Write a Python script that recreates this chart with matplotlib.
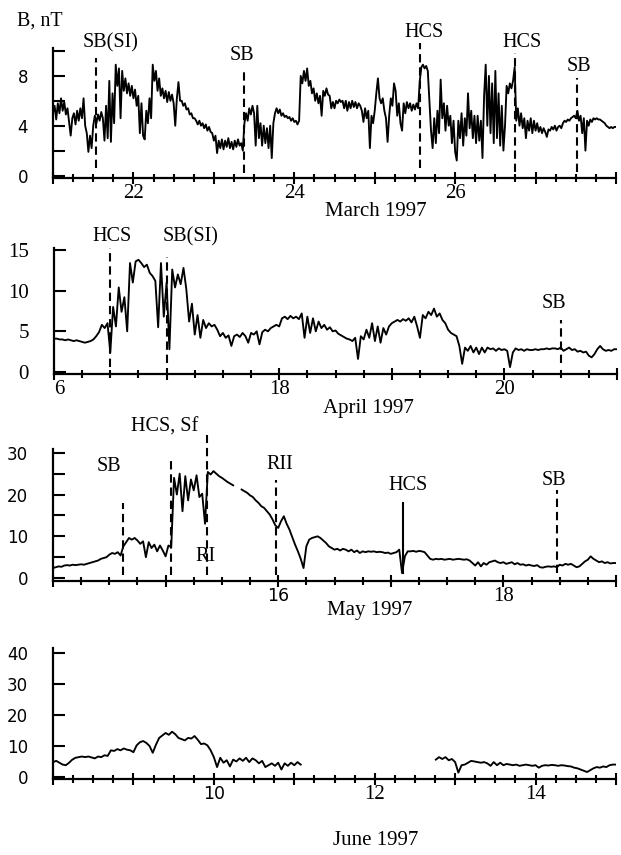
import numpy as np
import matplotlib
matplotlib.use("Agg")
import matplotlib.pyplot as plt
import matplotlib.transforms as mtransforms
from matplotlib.ticker import MultipleLocator, FixedLocator

plt.rcParams['lines.scale_dashes'] = False

SERIF = 'Liberation Serif'
SANS = 'DejaVu Sans'

# ---------------- data (B, nT) ----------------
# March 1997, 21.00 .. 28.00 days, step 0.02 day
mar_t0, mar_t1 = 21.0, 28.0
mar_B = [5.0, 5.6, 4.5, 5.8, 5.0, 6.2, 5.2, 5.9, 4.9, 5.4,
         4.3, 3.2, 4.6, 5.0, 4.1, 5.2, 4.4, 5.4, 4.6, 6.2,
         4.0, 3.4, 1.9, 3.2, 2.2, 4.0, 4.8, 4.2, 4.9, 4.4,
         5.1, 4.6, 2.8, 5.6, 3.0, 7.6, 2.7, 6.6, 4.2, 8.9,
         7.2, 8.6, 4.6, 8.4, 6.8, 7.8, 6.6, 7.4, 6.4, 7.2,
         6.2, 6.9, 5.6, 6.4, 3.4, 5.8, 3.2, 2.9, 5.2, 4.2,
         6.2, 4.6, 8.9, 7.6, 8.4, 6.8, 7.8, 6.4, 7.0, 6.2,
         6.8, 5.9, 6.7, 6.0, 6.5, 5.8, 4.0, 6.2, 7.5, 6.0,
         6.0, 5.6, 5.8, 5.3, 5.4, 4.9, 5.0, 4.6, 4.6, 4.4,
         4.1, 4.4, 4.0, 4.2, 3.8, 4.1, 3.6, 3.9, 3.5, 3.4,
         2.8, 3.2, 1.8, 2.8, 2.2, 2.9, 2.1, 2.8, 2.3, 3.0,
         2.2, 2.7, 2.1, 2.8, 2.3, 2.9, 2.4, 2.6, 2.0, 4.2,
         5.0, 4.4, 5.4, 4.9, 5.6, 5.0, 2.4, 5.6, 3.0, 4.2,
         2.4, 4.0, 2.6, 3.8, 2.2, 4.0, 1.4, 4.2, 5.0, 5.4,
         5.0, 5.3, 4.8, 5.0, 4.7, 4.8, 4.6, 4.7, 4.4, 4.6,
         4.3, 4.4, 4.1, 4.4, 8.0, 7.4, 8.4, 7.6, 8.6, 7.2,
         7.6, 6.6, 7.0, 6.0, 6.6, 5.8, 6.4, 4.8, 6.8, 6.4,
         7.0, 6.5, 6.4, 5.4, 5.9, 5.4, 6.0, 5.8, 6.1, 5.9,
         6.0, 5.4, 6.0, 5.2, 5.9, 5.4, 6.0, 5.5, 5.9, 5.4,
         5.8, 5.6, 5.2, 4.3, 5.4, 4.6, 5.2, 2.2, 4.8, 4.2,
         5.2, 6.6, 7.8, 6.2, 5.8, 6.2, 5.2, 4.6, 2.7, 4.8,
         6.2, 5.6, 7.4, 6.8, 4.8, 5.8, 4.2, 3.6, 5.8, 5.0,
         5.9, 5.4, 5.8, 5.2, 5.7, 5.3, 5.8, 5.4, 7.6, 8.7,
         8.9, 8.6, 8.8, 8.4, 6.0, 3.6, 2.2, 4.6, 2.6, 5.2,
         3.4, 7.7, 4.6, 5.8, 3.6, 5.6, 4.0, 4.8, 2.6, 4.4,
         1.9, 1.2, 4.4, 3.0, 5.0, 2.4, 4.6, 3.2, 6.6, 3.8,
         5.2, 3.0, 4.8, 2.6, 4.8, 2.8, 4.4, 1.4, 6.4, 8.9,
         4.0, 8.0, 3.4, 7.4, 2.6, 8.4, 3.0, 6.6, 2.4, 5.6,
         2.0, 4.0, 7.2, 6.6, 7.4, 7.0, 7.6, 8.7, 4.4, 5.4,
         4.0, 5.0, 3.8, 4.6, 3.0, 4.4, 3.6, 4.6, 3.4, 4.4,
         3.6, 4.2, 3.5, 3.9, 3.4, 3.8, 3.5, 3.1, 3.7, 3.6,
         3.9, 3.7, 4.0, 3.6, 3.9, 4.0, 3.8, 4.2, 4.4, 4.3,
         4.5, 4.4, 4.6, 4.7, 4.8, 4.6, 5.2, 4.4, 4.8, 3.4,
         4.6, 2.0, 4.4, 4.0, 4.5, 4.3, 4.6, 4.5, 4.6, 4.5,
         4.5, 4.4, 4.3, 4.2, 4.0, 3.9, 3.8, 3.9, 3.8, 3.9,
         3.9]

# April 1997, 16.000 .. 21.000 days, step 0.025 day
apr_t0, apr_t1 = 16.0, 21.0
apr_B = [4.1, 4.1, 4.0, 4.0, 3.9, 4.0, 3.9, 3.8, 3.9, 3.8,
         3.7, 3.6, 3.7, 3.8, 4.0, 4.4, 4.9, 5.8, 5.4, 6.0,
         2.4, 8.0, 5.6, 10.4, 7.4, 9.2, 5.0, 13.4, 11.0, 13.6,
         13.8, 13.4, 12.9, 13.2, 12.2, 11.8, 11.2, 5.5, 13.4, 6.8,
         11.0, 2.8, 12.6, 10.4, 12.0, 10.8, 12.8, 10.2, 6.2, 8.4,
         4.6, 7.0, 4.2, 6.4, 5.4, 6.0, 5.6, 5.8, 5.2, 4.4,
         4.8, 4.2, 4.5, 3.2, 4.4, 4.6, 4.3, 4.8, 4.4, 3.6,
         4.8, 4.6, 5.0, 3.4, 4.9, 5.2, 5.0, 5.4, 5.6, 5.8,
         5.6, 6.6, 6.8, 6.5, 6.9, 6.6, 6.8, 6.5, 7.2, 4.2,
         6.8, 4.8, 6.6, 5.0, 6.2, 5.4, 5.8, 5.2, 5.5, 5.0,
         5.1, 4.7, 4.5, 4.3, 4.1, 4.0, 3.8, 4.2, 1.6, 4.4,
         4.0, 5.2, 4.2, 6.0, 3.8, 5.6, 3.6, 5.4, 4.6, 5.6,
         6.0, 6.2, 6.4, 6.2, 6.5, 6.3, 6.6, 6.1, 6.8, 5.6,
         4.2, 7.0, 6.6, 7.4, 7.0, 7.8, 6.8, 7.2, 6.4, 6.0,
         5.2, 4.8, 4.6, 4.4, 3.2, 1.0, 3.0, 2.6, 3.2, 2.4,
         3.0, 2.2, 3.0, 2.4, 3.0, 2.8, 2.9, 2.6, 2.9, 2.7,
         2.8, 2.6, 0.6, 2.4, 2.9, 2.7, 2.8, 2.6, 2.8, 2.7,
         2.7, 2.8, 2.7, 2.8, 2.8, 2.9, 2.8, 2.9, 2.9, 2.8,
         3.0, 2.6, 2.8, 3.0, 2.7, 2.8, 2.5, 2.6, 2.4, 2.5,
         2.0, 1.8, 2.2, 2.8, 3.2, 2.8, 2.6, 2.7, 2.6, 2.8,
         2.8]

# May 1997, 14.000 .. 19.000 days, step 0.025 day (nan = data gap)
nan = np.nan
may_t0, may_t1 = 14.0, 19.0
may_B = [2.4, 2.6, 2.8, 2.7, 3.0, 3.1, 3.0, 3.2, 3.1, 3.2,
         3.3, 3.2, 3.4, 3.6, 3.8, 4.0, 4.2, 4.6, 4.8, 5.0,
         5.6, 6.0, 5.8, 6.2, 5.4, 7.6, 8.6, 9.6, 9.2, 9.6,
         9.0, 8.2, 8.8, 5.0, 8.6, 7.2, 8.0, 6.4, 7.8, 6.6,
         5.2, 7.8, 7.4, 24.0, 20.0, 25.0, 16.0, 24.4, 18.6, 23.6,
         21.0, 24.6, 19.4, 20.2, 13.0, 25.4, 24.8, 25.6, 25.0, 24.4,
         24.0, 23.5, 23.0, 22.6, 22.2, nan, nan, 21.2, 20.8, 20.4,
         19.8, 19.4, 18.6, 18.0, 17.2, 16.8, 16.0, 15.2, 14.0, 12.6,
         12.0, 13.6, 14.8, 13.0, 11.6, 9.8, 8.0, 6.4, 4.6, 2.4,
         7.6, 9.2, 9.6, 9.8, 10.0, 9.6, 9.0, 8.4, 7.6, 7.2,
         6.8, 7.0, 6.6, 7.0, 6.8, 6.4, 6.8, 6.2, 6.6, 6.0,
         6.4, 6.2, 6.4, 6.3, 6.4, 6.2, 6.3, 6.2, 6.0, 6.1,
         5.8, 6.0, 6.2, 6.8, 1.2, 5.2, 6.4, 6.4, 6.5, 6.3,
         6.5, 6.4, 6.2, 5.4, 4.6, 4.4, 4.6, 4.5, 4.6, 4.4,
         4.5, 4.6, 4.4, 4.5, 4.6, 4.5, 4.4, 4.5, 4.2, 3.6,
         3.0, 3.8, 2.8, 3.6, 3.2, 3.8, 4.0, 4.2, 3.8, 3.6,
         3.8, 3.4, 3.6, 3.8, 3.3, 3.6, 3.2, 3.3, 3.0, 3.2,
         3.0, 2.9, 3.1, 2.6, 2.5, 2.7, 2.8, 2.7, 2.8, 2.6,
         3.2, 3.0, 3.4, 3.2, 3.4, 3.0, 2.6, 2.8, 3.4, 4.0,
         4.4, 5.2, 4.6, 4.2, 3.8, 4.0, 3.6, 3.8, 3.5, 3.6,
         3.6]

# June 1997, two segments, step 0.04 day
jun_a_t0, jun_a_t1 = 8.0, 11.08
jun_B_a = [4.8, 5.2, 4.6, 4.0, 3.8, 4.6, 5.6, 6.2, 6.4, 6.6,
           6.4, 6.6, 6.3, 6.0, 6.6, 6.4, 7.0, 6.8, 8.6, 8.4,
           9.0, 8.6, 9.2, 8.8, 8.6, 8.0, 10.2, 11.2, 11.6, 11.0,
           10.0, 7.8, 10.4, 12.6, 13.4, 14.2, 13.6, 14.6, 13.8, 12.6,
           12.2, 11.8, 12.6, 12.4, 13.2, 12.0, 10.6, 10.8, 10.2, 8.6,
           6.4, 3.2, 6.2, 4.6, 5.4, 3.4, 5.6, 5.0, 6.0, 5.2,
           6.2, 4.8, 6.0, 5.4, 4.4, 5.2, 3.2, 3.8, 4.4, 3.6,
           4.6, 2.4, 4.4, 3.6, 4.6, 3.8, 4.8, 4.0]
jun_b_t0, jun_b_t1 = 12.76, 15.0
jun_B_b = [5.6, 6.4, 5.8, 6.4, 5.4, 5.8, 4.8, 1.4, 3.8, 4.0,
           4.6, 5.2, 5.0, 4.8, 4.6, 4.8, 4.4, 3.6, 4.8, 3.8,
           4.6, 3.8, 4.2, 4.0, 3.8, 4.0, 3.6, 3.8, 4.0, 3.8,
           3.6, 3.8, 3.0, 3.6, 3.8, 3.7, 3.9, 3.8, 3.6, 3.8,
           3.7, 3.5, 3.4, 3.0, 2.8, 2.4, 2.0, 1.6, 2.2, 2.8,
           3.2, 3.0, 3.4, 3.2, 3.8, 4.0, 4.0]

# event markers: (day, label)
mar_events = [(21.53, 'SB(SI)'), (23.37, 'SB'), (25.56, 'HCS'), (26.75, 'HCS'), (27.51, 'SB')]
apr_events = [(16.50, 'HCS'), (17.00, 'SB(SI)'), (20.50, 'SB')]
may_events = [(14.62, 'SB'), (15.05, ''), (15.37, 'RI'), (15.98, 'RII'), (17.11, 'HCS'), (18.48, 'SB')]
may_extra_label = 'HCS, Sf'

# ---------------- layout (positions / styles) ----------------
# per event: line ymin, ymax (axes fraction), linestyle, label x (days), label y (axes fraction)
mar_layout = [(0.077, 0.923, '--', 21.72, 1.040),
              (0.038, 0.823, '--', 23.35, 0.946),
              (0.077, 1.038, '--', 25.61, 1.123),
              (0.046, 0.962, '--', 26.83, 1.046),
              (0.046, 0.769, '--', 27.54, 0.854)]
apr_layout = [(0.056, 1.000, '--', 16.52, 1.090),
              (0.087, 0.929, '--', 17.21, 1.090),
              (0.087, 0.429, '--', 20.44, 0.563)]
may_layout = [(0.045, 0.590, '--', 14.50, 0.871),
              (0.045, 0.917, '--', None, None),
              (0.045, 1.106, '--', 15.35, 0.182),
              (0.045, 0.765, '--', 16.01, 0.879),
              (0.060, 0.590, '-', 17.15, 0.727),
              (0.060, 0.690, '--', 18.45, 0.765)]

fig = plt.figure(figsize=(6.21, 8.55), dpi=100)

def make_axes(rect, xlim, ylim, xmajor, xlabels, xfonts, yticks, ylabels, yfont, ysize):
    ax = fig.add_axes(rect)
    ax.set_xlim(*xlim)
    ax.set_ylim(*ylim)
    for s in ('top', 'right'):
        ax.spines[s].set_visible(False)
    for s in ('left', 'bottom'):
        ax.spines[s].set_linewidth(1.6)
    ax.xaxis.set_major_locator(FixedLocator(xmajor))
    ax.set_xticklabels(xlabels)
    for lab, f in zip(ax.get_xticklabels(), xfonts):
        lab.set_fontfamily(f)
        lab.set_fontsize(15 if f == SERIF else 12.5)
    ax.xaxis.set_minor_locator(MultipleLocator(0.25))
    ax.tick_params(axis='x', which='major', direction='inout', length=9, width=1.5, pad=0)
    ax.tick_params(axis='x', which='minor', direction='inout', length=5.5, width=1.5)
    ax.set_yticks(yticks)
    ax.set_yticklabels(ylabels, fontfamily=yfont, fontsize=ysize)
    ax.tick_params(axis='y', which='major', direction='in', length=8.5, width=1.5, pad=18)
    return ax

W = 563 / 621
LW = 1.35

# ---- March ----
ax1 = make_axes([53 / 621, 1 - 178 / 855, W, 130 / 855], (21, 28), (-0.2, 10.24),
                list(range(21, 29)), ['', '22', '', '24', '', '26', '', ''], [SERIF] * 8,
                [0, 2, 4, 6, 8, 10], ['0', '', '4', '', '8', ''], SANS, 12)
t = np.linspace(mar_t0, mar_t1, len(mar_B))
ax1.plot(t, mar_B, color='black', lw=LW)
for (day, lab), (y0, y1, ls, lx, ly) in zip(mar_events, mar_layout):
    ax1.axvline(day, ymin=y0, ymax=y1, color='black', lw=1.5, ls=ls, dashes=(6, 3.5), clip_on=False)
    ax1.text(lx, ly, lab, transform=ax1.get_xaxis_transform(), ha='center', va='center',
             fontfamily=SERIF, fontsize=14.5)

# ---- April ----
ax2 = make_axes([54 / 621, 1 - 374 / 855, W, 126 / 855], (16, 21), (-0.25, 15.25),
                list(range(16, 22)), ['6', '', '18', '', '20', ''], [SERIF] * 6,
                [0, 5, 10, 15], ['0', '5', '10', '15'], SERIF, 15)
# the first April label sits a little right of its tick in the reference
first_lab = ax2.get_xticklabels()[0]
first_lab.set_transform(first_lab.get_transform() +
                        mtransforms.ScaledTranslation(5 / 100, 0, fig.dpi_scale_trans))
t = np.linspace(apr_t0, apr_t1, len(apr_B))
ax2.plot(t, apr_B, color='black', lw=LW)
for (day, lab), (y0, y1, ls, lx, ly) in zip(apr_events, apr_layout):
    ax2.axvline(day, ymin=y0, ymax=y1, color='black', lw=1.5, ls=ls, dashes=(6, 3.5), clip_on=False)
    ax2.text(lx, ly, lab, transform=ax2.get_xaxis_transform(), ha='center', va='center',
             fontfamily=SERIF, fontsize=14.5)

# ---- May ----
ax3 = make_axes([53 / 621, 1 - 581 / 855, W, 132 / 855], (14, 19), (-0.7, 30.9),
                list(range(14, 20)), ['', '', '16', '', '18', ''], [SERIF, SERIF, SANS, SERIF, SERIF, SERIF],
                [0, 5, 10, 15, 20, 25, 30], ['0', '', '10', '', '20', '', '30'], SANS, 12)
t = np.linspace(may_t0, may_t1, len(may_B))
ax3.plot(t, may_B, color='black', lw=LW)
for (day, lab), (y0, y1, ls, lx, ly) in zip(may_events, may_layout):
    if ls == '-':
        ax3.axvline(day, ymin=y0, ymax=y1, color='black', lw=1.5, ls='-', clip_on=False)
    else:
        ax3.axvline(day, ymin=y0, ymax=y1, color='black', lw=1.5, ls=ls, dashes=(6, 3.5), clip_on=False)
    if lab:
        ax3.text(lx, ly, lab, transform=ax3.get_xaxis_transform(), ha='center', va='center',
                 fontfamily=SERIF, fontsize=14.5)
ax3.text(14.99, 1.167, may_extra_label, transform=ax3.get_xaxis_transform(), ha='center',
         va='center', fontfamily=SERIF, fontsize=14.5)

# ---- June ----
ax4 = make_axes([53 / 621, 1 - 779 / 855, W, 131 / 855], (8, 15), (-0.65, 41.6),
                list(range(8, 16)), ['', '', '10', '', '12', '', '14', ''],
                [SERIF, SERIF, SANS, SERIF, SERIF, SERIF, SERIF, SERIF],
                [0, 10, 20, 30, 40], ['0', '10', '20', '30', '40'], SANS, 12)
ax4.plot(np.linspace(jun_a_t0, jun_a_t1, len(jun_B_a)), jun_B_a, color='black', lw=LW)
ax4.plot(np.linspace(jun_b_t0, jun_b_t1, len(jun_B_b)), jun_B_b, color='black', lw=LW)

# ---- labels ----
fig.text(17 / 621, 1 - 21 / 855, 'B, nT', ha='left', va='center', fontfamily=SERIF, fontsize=14.5)
fig.text(376 / 621, 1 - 211 / 855, 'March 1997', ha='center', va='center', fontfamily=SERIF, fontsize=15)
fig.text(368 / 621, 1 - 408 / 855, 'April 1997', ha='center', va='center', fontfamily=SERIF, fontsize=15)
fig.text(370 / 621, 1 - 610 / 855, 'May 1997', ha='center', va='center', fontfamily=SERIF, fontsize=15)
fig.text(376 / 621, 1 - 840 / 855, 'June 1997', ha='center', va='center', fontfamily=SERIF, fontsize=15)

fig.savefig('out.png', dpi=100)
